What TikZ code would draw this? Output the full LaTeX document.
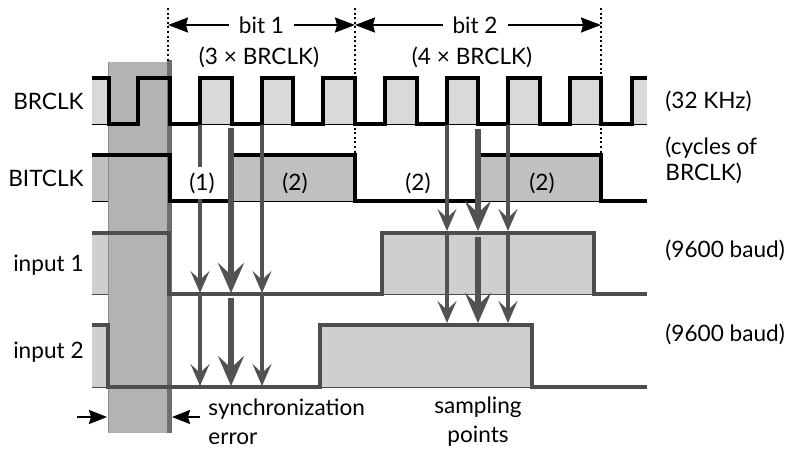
\documentclass[tikz,border=0pt]{standalone}
\usepackage{fontspec}
\setmainfont{Lato}
\usetikzlibrary{arrows.meta}
\definecolor{brfill}{HTML}{D9D9D9}
\definecolor{bitfill}{HTML}{C0C0C0}
\definecolor{infill}{HTML}{CFCFCF}
\definecolor{bandc}{HTML}{B3B3B3}
\definecolor{bandedge}{HTML}{6E6E6E}
\definecolor{wave}{HTML}{4D4D4D}
\definecolor{arr}{HTML}{525252}
\begin{document}
\begin{tikzpicture}[x=0.5pt,y=-0.5pt,
  lab/.style={font=\fontsize{11.3}{13}\selectfont, inner sep=0pt},
  clk/.style={draw=black, line width=1.65pt, line join=miter},
  sig/.style={draw=wave, line width=1.65pt, line join=miter},
  base/.style={line width=0.5pt},
  dotline/.style={draw=black, line width=1pt, dash pattern=on 1pt off 1.3pt},
  dim/.style={draw=black, line width=0.85pt, {Stealth[length=10pt,width=7.5pt,inset=1pt]}-{Stealth[length=10pt,width=7.5pt,inset=1pt]}},
  errarr/.style={draw=black, line width=1pt, -{Stealth[length=9pt,width=7pt,inset=1pt]}},
  samp/.style={draw=arr, line width=1.8pt, -{Stealth[length=11pt,width=9.5pt,inset=4.5pt]}},
  sampthick/.style={draw=arr, line width=3.3pt, -{Stealth[length=15pt,width=13pt,inset=6pt]}}]
\useasboundingbox (0,0) rectangle (793,450);

% ---- fills
\foreach \a/\b in {92/109,138/170,200/232,262/293,323/355,385/417,447/478,508/540,570/601,632/647}
  \fill[brfill] (\a,78) rectangle (\b,124);
\foreach \a/\b in {92/170,232/355,478/601}
  \fill[bitfill] (\a,155) rectangle (\b,201);
\foreach \a/\b in {92/169,382/594}
  \fill[infill] (\a,233) rectangle (\b,294);
\foreach \a/\b in {92/108,320/532}
  \fill[infill] (\a,325) rectangle (\b,387);

% ---- thin baselines
\draw[base, black] (92,124) -- (647,124);
\draw[base, black] (92,201) -- (647,201);
\draw[base, wave] (92,294) -- (647,294);
\draw[base, wave] (92,387) -- (647,387);

% ---- synchronization error band
\fill[bandc] (108,62) rectangle (168,433);
\fill[bandedge] (167,60) rectangle (172,433);
\draw[line width=0.4pt, color=black!45] (108,62) -- (108,433);

% ---- waveforms
\draw[clk] (92,78) -- (109,78) -- (109,124) -- (138,124) -- (138,78) -- (170,78) -- (170,124)
  -- (200,124) -- (200,78) -- (232,78) -- (232,124) -- (262,124) -- (262,78) -- (293,78) -- (293,124)
  -- (323,124) -- (323,78) -- (355,78) -- (355,124) -- (385,124) -- (385,78) -- (417,78) -- (417,124)
  -- (447,124) -- (447,78) -- (478,78) -- (478,124) -- (508,124) -- (508,78) -- (540,78) -- (540,124)
  -- (570,124) -- (570,78) -- (601,78) -- (601,124) -- (632,124) -- (632,78) -- (647,78);
\draw[clk] (92,155) -- (170,155) -- (170,201) -- (232,201) -- (232,155) -- (355,155) -- (355,201)
  -- (478,201) -- (478,155) -- (601,155) -- (601,201) -- (647,201);
\draw[sig] (92,233) -- (169,233) -- (169,294) -- (382,294) -- (382,233) -- (594,233) -- (594,294) -- (647,294);
\draw[sig] (92,325) -- (108,325) -- (108,387) -- (320,387) -- (320,325) -- (532,325) -- (532,387) -- (647,387);

% ---- dotted bit boundaries
\coordinate (b0t) at (168,8);  \coordinate (b0b) at (168,62);
\coordinate (b1t) at (355,8);  \coordinate (b1b) at (355,155);
\coordinate (b2t) at (601,8);  \coordinate (b2b) at (601,155);
\draw[dotline] (b0t) -- (b0b);
\draw[dotline] (b1t) -- (b1b);
\draw[dotline] (b2t) -- (b2b);

% ---- bit dimension arrows
\coordinate (d0) at (168,25); \coordinate (d1) at (355,25); \coordinate (d2) at (601,25);
\draw[dim] (d0) -- (d1) node[pos=0.5, fill=white, lab, inner xsep=5pt, inner ysep=2pt] (bit1) {bit 1};
\draw[dim] (d1) -- (d2) node[pos=0.488, fill=white, lab, inner xsep=5pt, inner ysep=2pt] (bit2) {bit 2};
\node[lab] (n3) at (259,57) {(3 × BRCLK)};
\node[lab] (n4) at (472,57) {(4 × BRCLK)};

% ---- sampling arrows, bit 1
\coordinate (s1a) at (200,125); \coordinate (s1b) at (200,293); \coordinate (s1c) at (200,294); \coordinate (s1d) at (200,386);
\coordinate (s2a) at (231,128); \coordinate (s2b) at (231,293); \coordinate (s2c) at (231,298); \coordinate (s2d) at (231,386);
\coordinate (s3a) at (262,125); \coordinate (s3b) at (262,293); \coordinate (s3c) at (262,294); \coordinate (s3d) at (262,386);
\draw[samp] (s1a) -- (s1b);
\draw[sampthick] (s2a) -- (s2b);
\draw[samp] (s3a) -- (s3b);
\draw[samp] (s1c) -- (s1d);
\draw[sampthick] (s2c) -- (s2d);
\draw[samp] (s3c) -- (s3d);

% ---- sampling arrows, bit 2
\coordinate (t1a) at (447,125); \coordinate (t1b) at (447,231); \coordinate (t1c) at (447,234); \coordinate (t1d) at (447,323);
\coordinate (t2a) at (478,129); \coordinate (t2b) at (478,231); \coordinate (t2c) at (478,237); \coordinate (t2d) at (478,323);
\coordinate (t3a) at (508,125); \coordinate (t3b) at (508,231); \coordinate (t3c) at (508,234); \coordinate (t3d) at (508,323);
\draw[samp] (t1a) -- (t1b);
\draw[sampthick] (t2a) -- (t2b);
\draw[samp] (t3a) -- (t3b);
\draw[samp] (t1c) -- (t1d);
\draw[sampthick] (t2c) -- (t2d);
\draw[samp] (t3c) -- (t3d);

% ---- BITCLK cycle labels (drawn over the arrows)
\node[lab, fill=white, inner xsep=1pt, inner ysep=3pt] (c1) at (202,183) {(1)};
\node[lab] (c2) at (295,183) {(2)};
\node[lab] (c3) at (418,183) {(2)};
\node[lab] (c4) at (542,183) {(2)};

% ---- synchronization error arrows
\coordinate (e0) at (77,417); \coordinate (e1) at (107,417);
\coordinate (e2) at (200,417); \coordinate (e3) at (172,417);
\draw[errarr] (e0) -- (e1);
\draw[errarr] (e2) -- (e3);

% ---- left labels
\node[lab, anchor=east] (lbr) at (84,101) {BRCLK};
\node[lab, anchor=east] (lbit) at (84,178) {BITCLK};
\node[lab, anchor=east] (lin1) at (84,265) {input 1};
\node[lab, anchor=east] (lin2) at (84,352) {input 2};

% ---- right labels
\node[lab, anchor=west] (r1) at (665,101) {(32 KHz)};
\node[lab, anchor=west, align=left] (r2) at (665,160) {(cycles of\\BRCLK)};
\node[lab, anchor=west] (r3) at (665,250) {(9600 baud)};
\node[lab, anchor=west] (r4) at (665,334) {(9600 baud)};

% ---- bottom labels
\node[lab, anchor=west, align=left, font=\fontsize{11.3}{14.5}\selectfont] (sync) at (208,422) {synchronization\\error};
\node[lab, align=center, font=\fontsize{11.3}{14.5}\selectfont] (sampl) at (478,422) {sampling\\points};
\end{tikzpicture}
\end{document}
